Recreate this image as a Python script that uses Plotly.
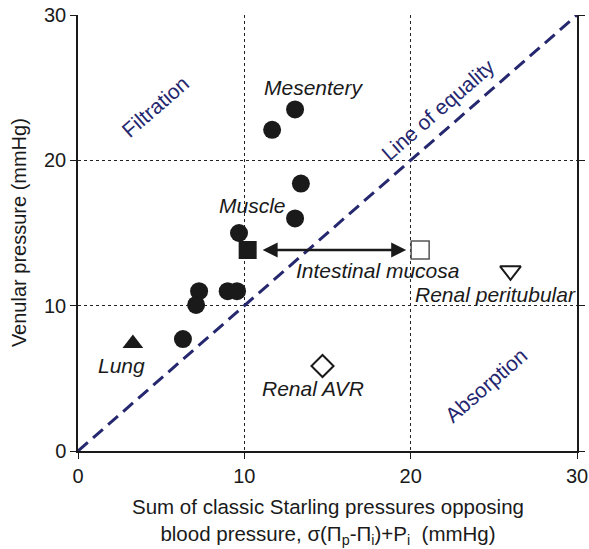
import plotly.graph_objects as go

# Data
circle_x = [11.67, 13.05, 13.4, 13.05, 9.68, 7.28, 7.1, 9.0, 9.56, 6.31]
circle_y = [22.1, 23.5, 18.4, 16.0, 15.0, 11.0, 10.05, 11.0, 11.0, 7.7]
muscle_sq = (10.2, 13.83)
mucosa_sq = (20.57, 13.83)
lung = (3.3, 7.4)
peritubular = (26.0, 12.4)
avr = (14.7, 5.85)
equality = [0, 30]

labels = ["Mesentery", "Muscle", "Intestinal mucosa", "Renal peritubular", "Renal AVR", "Lung"]
label_x = [14.2, 10.5, 18.0, 25.1, 14.1, 2.6]
label_y = [25.0, 16.9, 12.45, 10.75, 4.27, 5.9]

region_text = ["Filtration", "Line of equality", "Absorption"]
region_x = [4.65, 21.65, 24.5]
region_y = [23.7, 23.5, 4.5]

navy = "#25276f"
font = "Liberation Sans, Arial, sans-serif"
ink = "#1a1a1a"

fig = go.Figure()
fig.add_trace(go.Scatter(x=equality, y=equality, mode="lines",
                         line=dict(color=navy, width=3, dash="13px,7px"),
                         showlegend=False, hoverinfo="skip"))
fig.add_trace(go.Scatter(x=circle_x, y=circle_y, mode="markers",
                         marker=dict(symbol="circle", size=18, color=ink),
                         showlegend=False))
fig.add_trace(go.Scatter(x=[muscle_sq[0]], y=[muscle_sq[1]], mode="markers",
                         marker=dict(symbol="square", size=18, color=ink),
                         showlegend=False))
fig.add_trace(go.Scatter(x=[mucosa_sq[0]], y=[mucosa_sq[1]], mode="markers",
                         marker=dict(symbol="square-open", size=18, color="#555555",
                                     line=dict(width=1.5)),
                         showlegend=False))
fig.add_trace(go.Scatter(x=[lung[0]], y=[lung[1]], mode="markers",
                         marker=dict(symbol="triangle-up", size=18, color=ink),
                         showlegend=False))
fig.add_trace(go.Scatter(x=[peritubular[0]], y=[peritubular[1]], mode="markers",
                         marker=dict(symbol="triangle-down-open", size=18, color=ink,
                                     line=dict(width=2)),
                         showlegend=False))
fig.add_trace(go.Scatter(x=[avr[0]], y=[avr[1]], mode="markers",
                         marker=dict(symbol="diamond-open", size=17, color=ink,
                                     line=dict(width=2)),
                         showlegend=False))

# double-headed arrow
fig.add_annotation(x=muscle_sq[0] + 0.9, y=muscle_sq[1], ax=mucosa_sq[0] - 0.75, ay=mucosa_sq[1],
                   xref="x", yref="y", axref="x", ayref="y", text="", showarrow=True,
                   arrowhead=2, arrowsize=1.2, arrowwidth=2.5, arrowcolor=ink,
                   arrowside="end+start")

for t, x, y in zip(labels, label_x, label_y):
    fig.add_annotation(x=x, y=y, text="<i>%s</i>" % t, showarrow=False,
                       font=dict(family=font, size=21, color=ink))
for t, x, y in zip(region_text, region_x, region_y):
    fig.add_annotation(x=x, y=y, text=t, showarrow=False, textangle=-41,
                       font=dict(family=font, size=21, color=navy))

# axis titles
fig.add_annotation(xref="paper", yref="paper", x=-0.118, y=0.5, xanchor="center",
                   yanchor="middle", textangle=-90,
                   text="Venular pressure (mmHg)", showarrow=False,
                   font=dict(family=font, size=20, color=ink))
fig.add_annotation(xref="paper", yref="paper", x=0.5, y=-0.096, yanchor="top",
                   xanchor="center",
                   text="Sum of classic Starling pressures opposing<br>blood pressure, σ(Π<sub>p</sub>-Π<sub>i</sub>)+P<sub>i</sub>  (mmHg)",
                   showarrow=False, align="center",
                   font=dict(family=font, size=20.5, color=ink))

axis_common = dict(range=[0, 30], tickvals=[0, 10, 20, 30], showgrid=True,
                   gridcolor="#222222", griddash="dot", gridwidth=1, zeroline=False,
                   showline=True, linecolor=ink, linewidth=1.5, automargin=False,
                   ticks="outside", ticklen=6, tickcolor=ink, tickwidth=1.2,
                   ticklabeloverflow="allow",
                   tickfont=dict(family=font, size=20, color=ink))

fig.update_layout(
    width=589, height=549,
    margin=dict(l=78, r=12, t=15, b=98),
    plot_bgcolor="white", paper_bgcolor="white",
    xaxis=dict(**axis_common),
    yaxis=dict(**axis_common, mirror="ticks"),
)

fig.write_html("out.html", config={"displayModeBar": False},
               post_script="document.body.style.margin='0';document.body.style.overflow='hidden';")
